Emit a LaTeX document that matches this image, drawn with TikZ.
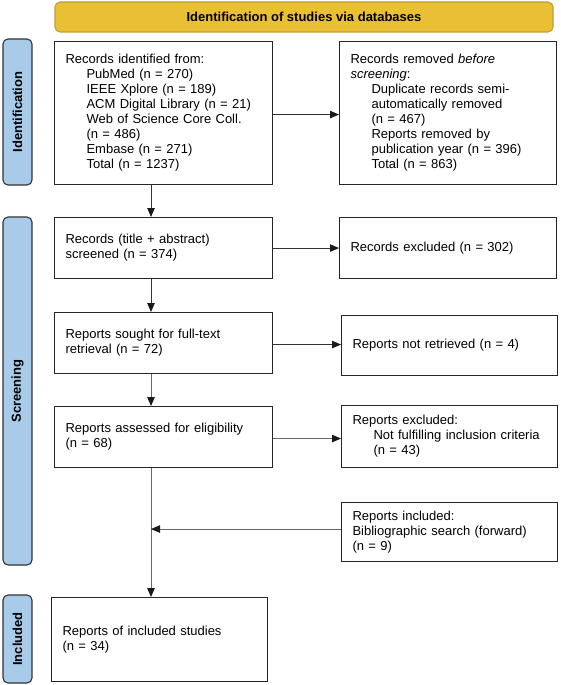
\documentclass[tikz,border=0pt]{standalone}
\usepackage{fontspec}
\setmainfont{Liberation Sans}
\usetikzlibrary{positioning, arrows.meta}

\definecolor{headyellow}{HTML}{E9BF33}
\definecolor{headborder}{HTML}{C29C35}
\definecolor{phaseblue}{HTML}{A8CBEA}

\newcommand{\sublist}{\hspace*{21pt}}

\tikzset{
    box/.style={draw=black!85, line width=1.1pt, fill=white, anchor=north west, align=left,
        inner xsep=11pt, inner ysep=0pt, font=\fontsize{13}{15}\selectfont},
    phase/.style={draw=black!80, line width=1.1pt, fill=phaseblue, rounded corners=5pt,
        rotate=90, minimum height=29pt, inner sep=0pt, font=\fontsize{13}{15}\selectfont\bfseries},
    header/.style={draw=headborder, line width=1.1pt, fill=headyellow, rounded corners=5pt,
        minimum width=498pt, minimum height=30pt, font=\fontsize{13}{15}\selectfont\bfseries},
    arr/.style={draw=black!80, line width=0.9pt, -{Triangle[length=9pt, width=7.5pt, color=black!90]}},
    greyarr/.style={arr, draw=black!60}
}

\begin{document}
\begin{tikzpicture}[x=1pt, y=1pt]
    \useasboundingbox (0,0) rectangle (560,-685);

    % header and phases
    \node[header] (head) at (304,-17) {Identification of studies via databases};
    \node[phase, minimum width=146pt] (phaseid) at (17.5,-112) {Identification};
    \node[phase, minimum width=348pt] (phasescreen) at (17.5,-391) {Screening};
    \node[phase, minimum width=88pt] (phaseincl) at (17.5,-639) {Included};

    % identification
    \node[box, text width=196pt, minimum height=143pt] (ident) at (54,-41) {
        Records identified from:\\
        \sublist PubMed (n = 270)\\
        \sublist IEEE Xplore (n = 189)\\
        \sublist ACM Digital Library (n = 21)\\
        \sublist Web of Science Core Coll.\\
        \sublist (n = 486)\\
        \sublist Embase (n = 271)\\
        \sublist Total (n = 1237)};
    \node[box, text width=195pt, minimum height=143pt] (removed) at (339,-41) {
        Records removed \textit{before}\\
        \textit{screening}:\\
        \sublist Duplicate records semi-\\
        \sublist automatically removed\\
        \sublist (n = 467)\\
        \sublist Reports removed by\\
        \sublist publication year (n = 396)\\
        \sublist Total (n = 863)};

    % screening
    \node[box, text width=196pt, minimum height=61pt] (screened) at (54,-217)
        {Records (title + abstract)\\screened (n = 374)};
    \node[box, text width=195pt, minimum height=61pt] (excluded) at (339,-217)
        {Records excluded (n = 302)};
    \node[box, text width=196pt, minimum height=61pt] (sought) at (54,-312)
        {Reports sought for full-text\\retrieval (n = 72)};
    \node[box, text width=194pt, minimum height=60pt] (notretrieved) at (341,-315)
        {Reports not retrieved (n = 4)};
    \node[box, text width=196pt, minimum height=61pt] (assessed) at (54,-406)
        {Reports assessed for eligibility\\(n = 68)};
    \node[box, text width=194pt, minimum height=62pt] (reportsexcl) at (341,-405) {
        Reports excluded:\\
        \sublist Not fulfilling inclusion criteria\\
        \sublist (n = 43)};
    \node[box, text width=194pt, minimum height=59pt] (biblio) at (341,-502) {
        Reports included:\\
        Bibliographic search (forward)\\
        (n = 9)};

    % included
    \node[box, text width=194pt, minimum height=84pt] (included) at (51,-597)
        {Reports of included studies\\(n = 34)};

    % connectors
    \coordinate (spine) at (151,0);
    \draw[arr] (ident.south -| spine) -- (screened.north -| spine);
    \draw[arr] (screened.south -| spine) -- (sought.north -| spine);
    \draw[greyarr] (sought.south -| spine) -- (assessed.north -| spine);
    \draw[greyarr] (assessed.south -| spine) -- (included.north -| spine);

    \draw[arr] ([yshift=-1.5pt]ident.east) -- ([yshift=-1.5pt]ident.east -| removed.west);
    \draw[arr] (screened.east) -- (screened.east -| excluded.west);
    \draw[arr] ([yshift=-1.5pt]sought.east) -- ([yshift=-1.5pt]sought.east -| notretrieved.west);
    \draw[greyarr] ([yshift=-1.5pt]assessed.east) -- ([yshift=-1.5pt]assessed.east -| reportsexcl.west);
    \draw[greyarr] ([yshift=3pt]biblio.west) -- ([yshift=3pt]biblio.west -| spine);
\end{tikzpicture}
\end{document}
